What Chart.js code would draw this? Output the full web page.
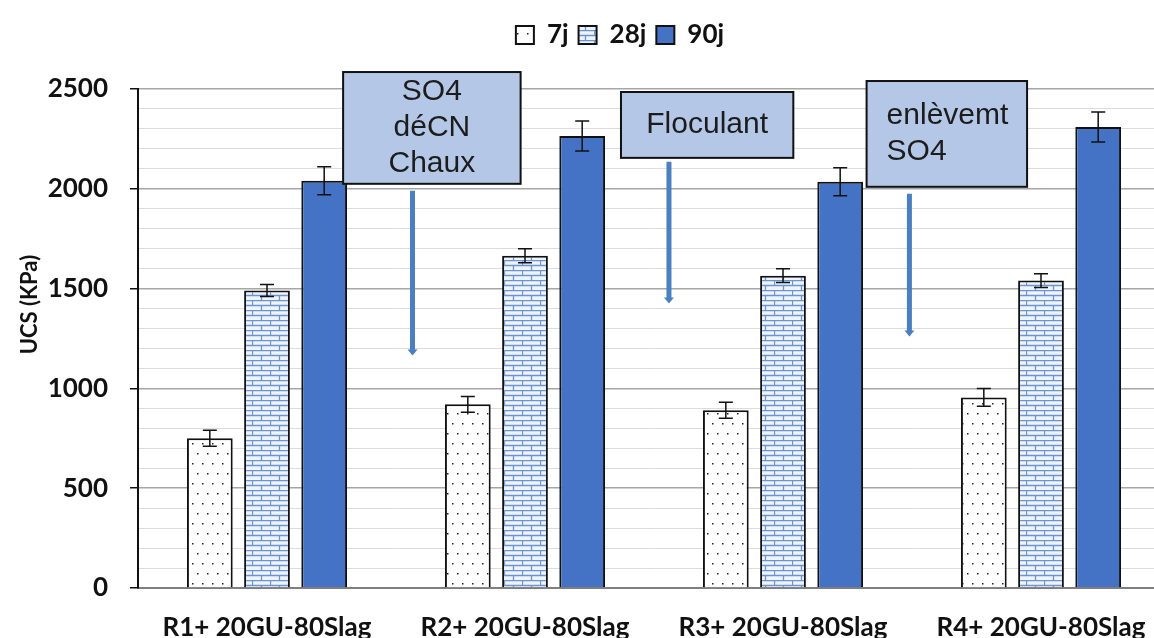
<!DOCTYPE html>
<html>
<head>
<meta charset="utf-8">
<script src="https://cdn.jsdelivr.net/npm/chart.js@4"></script>
<style>
  html, body { margin: 0; padding: 0; background: #fff; overflow: hidden; }
  #wrap { width: 1154px; height: 638px; overflow: hidden; }
</style>
</head>
<body>
<div id="wrap"><canvas id="ucsChart" width="1170" height="638"></canvas></div>
<script>
const categories = ['R1+ 20GU-80Slag', 'R2+ 20GU-80Slag', 'R3+ 20GU-80Slag', 'R4+ 20GU-80Slag']
const seriesNames = ['7j', '28j', '90j']
const ucs7 = [750, 920, 890, 955]
const ucs28 = [1490, 1665, 1565, 1540]
const ucs90 = [2040, 2265, 2035, 2310]
const err7 = [40, 40, 40, 45]
const err28 = [30, 35, 35, 35]
const err90 = [70, 75, 70, 75]
const yTicks = [0, 500, 1000, 1500, 2000, 2500]
const yTitle = 'UCS (KPa)'

// text boxes + arrows, x in category units, y in KPa
const notes = [
  { lines: ['SO4', 'déCN', 'Chaux'], x0: 0.295, x1: 0.983, yTop: 2585, yBot: 2025, align: 'center', ax: 0.564, aTop: 1990, aBot: 1165 },
  { lines: ['Floculant'], x0: 1.372, x1: 2.04, yTop: 2485, yBot: 2155, align: 'center', ax: 1.558, aTop: 2135, aBot: 1425 },
  { lines: ['enlèvemt', 'SO4'], x0: 2.324, x1: 2.946, yTop: 2540, yBot: 2010, align: 'left', ax: 2.49, aTop: 1975, aBot: 1260 }
]

function dotPattern() {
  const c = document.createElement('canvas')
  c.width = 10; c.height = 20
  const g = c.getContext('2d')
  g.fillStyle = '#ffffff'
  g.fillRect(0, 0, 10, 20)
  g.fillStyle = '#222'
  g.fillRect(2, 3, 1.5, 1.5)
  g.fillRect(7, 13, 1.5, 1.5)
  return g.createPattern(c, 'repeat')
}

function brickPattern() {
  const c = document.createElement('canvas')
  c.width = 18; c.height = 10
  const g = c.getContext('2d')
  g.fillStyle = '#eef4fd'
  g.fillRect(0, 0, 18, 10)
  g.strokeStyle = '#6f93cf'
  g.lineWidth = 1.3
  g.beginPath()
  g.moveTo(0, 0.5); g.lineTo(18, 0.5)
  g.moveTo(0, 5.5); g.lineTo(18, 5.5)
  g.moveTo(0.5, 0); g.lineTo(0.5, 5.5)
  g.moveTo(9.5, 5.5); g.lineTo(9.5, 10)
  g.stroke()
  return g.createPattern(c, 'repeat')
}

const errs = [err7, err28, err90]

const errorBars = {
  id: 'errorBars',
  afterDatasetsDraw(chart) {
    const { ctx, scales: { y } } = chart
    ctx.save()
    ctx.strokeStyle = '#111'
    ctx.lineWidth = 1.5
    chart.data.datasets.forEach((ds, i) => {
      const meta = chart.getDatasetMeta(i)
      meta.data.forEach((bar, j) => {
        const v = ds.data[j], e = errs[i][j]
        const top = y.getPixelForValue(v + e)
        const bot = y.getPixelForValue(v - e)
        ctx.beginPath()
        ctx.moveTo(bar.x, top); ctx.lineTo(bar.x, bot)
        ctx.moveTo(bar.x - 7, top); ctx.lineTo(bar.x + 7, top)
        ctx.moveTo(bar.x - 7, bot); ctx.lineTo(bar.x + 7, bot)
        ctx.stroke()
      })
    })
    ctx.restore()
  }
}

const noteBoxes = {
  id: 'noteBoxes',
  afterDatasetsDraw(chart) {
    const { ctx, scales: { x, y } } = chart
    const step = x.getPixelForValue(1) - x.getPixelForValue(0)
    const px = v => x.getPixelForValue(0) + v * step
    ctx.save()
    notes.forEach(n => {
      const l = px(n.x0), r = px(n.x1)
      const t = y.getPixelForValue(n.yTop), b = y.getPixelForValue(n.yBot)
      ctx.fillStyle = '#b4c7e7'
      ctx.fillRect(l, t, r - l, b - t)
      ctx.strokeStyle = '#111'
      ctx.lineWidth = 2
      ctx.strokeRect(l, t, r - l, b - t)
      ctx.fillStyle = '#1c1c1c'
      ctx.font = '30px "Liberation Sans", Arial, sans-serif'
      ctx.textBaseline = 'middle'
      const lh = 36
      const cy = (t + b) / 2 - (n.lines.length - 1) * lh / 2
      n.lines.forEach((s, k) => {
        if (n.align === 'left') {
          ctx.textAlign = 'left'
          ctx.fillText(s, l + 20, cy + k * lh)
        } else {
          ctx.textAlign = 'center'
          ctx.fillText(s, (l + r) / 2, cy + k * lh)
        }
      })
      // arrow
      const ax = px(n.ax)
      const at = y.getPixelForValue(n.aTop), ab = y.getPixelForValue(n.aBot)
      ctx.strokeStyle = '#4a80bf'
      ctx.fillStyle = '#4a80bf'
      ctx.lineWidth = 5
      ctx.beginPath()
      ctx.moveTo(ax, at); ctx.lineTo(ax, ab - 5)
      ctx.stroke()
      ctx.beginPath()
      ctx.moveTo(ax - 5, ab - 6); ctx.lineTo(ax + 5, ab - 6); ctx.lineTo(ax, ab)
      ctx.closePath()
      ctx.fill()
    })
    ctx.restore()
  }
}

// y title sits a little above the middle of the axis in the original
const yTitleDraw = {
  id: 'yTitleDraw',
  afterDraw(chart) {
    const { ctx, scales: { y } } = chart
    ctx.save()
    ctx.translate(30, y.getPixelForValue(1420))
    ctx.rotate(-Math.PI / 2)
    ctx.font = 'bold 22px Lato'
    ctx.fillStyle = '#111'
    ctx.textAlign = 'center'
    ctx.textBaseline = 'middle'
    ctx.fillText(yTitle, 0, 0)
    ctx.restore()
  }
}

// extra room under the legend, and push it a bit to the right
const legendGap = {
  id: 'legendGap',
  beforeInit(chart) {
    const fit = chart.legend.fit
    chart.legend.fit = function () {
      fit.bind(chart.legend)()
      this.height += 31
    }
  },
  afterLayout(chart) {
    chart.legend.left += 35
    chart.legend.right += 35
  }
}

const ctx = document.getElementById('ucsChart').getContext('2d')

const myChart = new Chart(ctx, {
  type: 'bar',
  data: {
    labels: categories,
    datasets: [
      { label: seriesNames[0], data: ucs7, backgroundColor: dotPattern(), borderColor: '#111', borderWidth: 2 },
      { label: seriesNames[1], data: ucs28, backgroundColor: brickPattern(), borderColor: '#111', borderWidth: 2 },
      { label: seriesNames[2], data: ucs90, backgroundColor: '#4472c4', borderColor: '#111', borderWidth: 2 }
    ]
  },
  options: {
    responsive: false,
    animation: false,
    layout: { padding: { top: 12, right: 0, bottom: 0, left: 0 } },
    datasets: { bar: { categoryPercentage: 0.665, barPercentage: 0.8 } },
    plugins: {
      legend: {
        position: 'top',
        labels: {
          color: '#111',
          font: { family: 'Lato', weight: 'bold', size: 26 },
          boxWidth: 18,
          boxHeight: 18,
          padding: 10
        }
      },
      tooltip: { enabled: false }
    },
    scales: {
      x: {
        grid: { display: false },
        border: { display: true, color: '#7f7f7f', width: 2 },
        ticks: { color: '#111', font: { family: 'Lato', weight: 'bold', size: 26 }, padding: 16 },
        afterFit(s) { s.height = 50 }
      },
      y: {
        min: 0,
        max: 2500,
        grid: {
          color: c => (c.tick.value % 500 === 0 ? '#a6a6a6' : '#dcdcdc'),
          tickColor: c => (c.tick.value % 500 === 0 ? '#111' : 'rgba(0,0,0,0)'),
          tickLength: 8,
          lineWidth: c => (c.tick.value % 500 === 0 ? 1.5 : 1)
        },
        border: { display: true, color: '#111', width: 2 },
        ticks: {
          stepSize: 100,
          autoSkip: false,
          padding: 22,
          color: '#111',
          font: { family: 'Lato', weight: 'bold', size: 26 },
          callback: v => (yTicks.includes(v) ? v : '')
        },
        title: { display: false },
        afterFit(s) { s.width = 138 }
      }
    }
  },
  plugins: [errorBars, noteBoxes, legendGap, yTitleDraw]
})
</script>
</body>
</html>
